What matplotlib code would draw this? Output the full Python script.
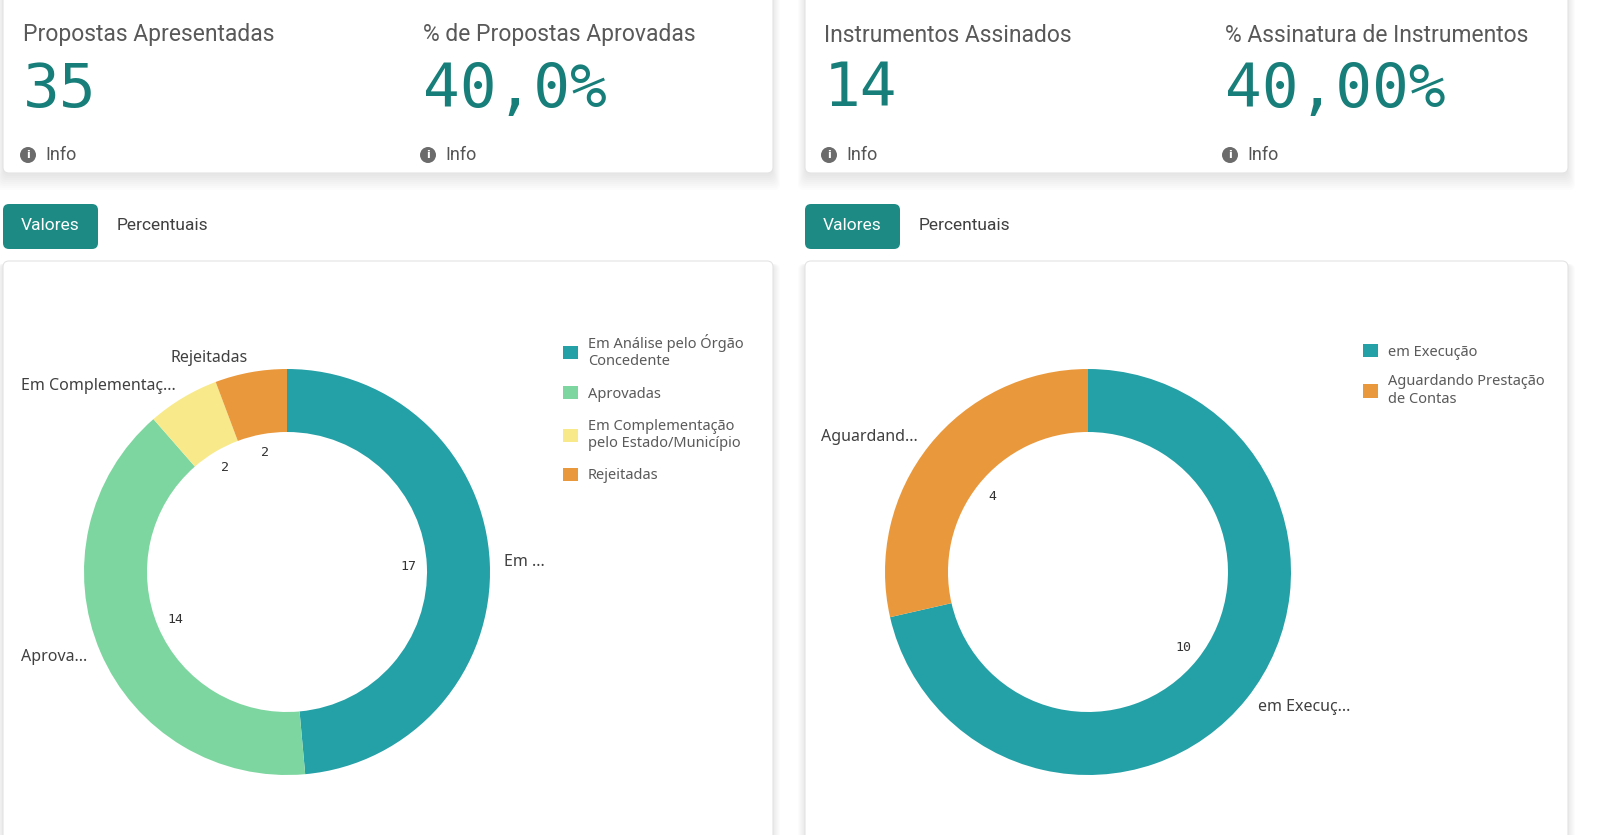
import matplotlib.pyplot as plt
from matplotlib.patches import FancyBboxPatch, Circle

# KPI cards
kpi_titles = ["Propostas Apresentadas", "% de Propostas Aprovadas",
              "Instrumentos Assinados", "% Assinatura de Instrumentos"]
kpi_values = ["35", "40,0%", "14", "40,00%"]

# left donut: situação das propostas
prop_names = ["Em Análise pelo Órgão\nConcedente", "Aprovadas",
              "Em Complementação\npelo Estado/Município", "Rejeitadas"]
prop_short = ["Em ...", "Aprova...", "Em Complementaç...", "Rejeitadas"]
prop_values = [17, 14, 2, 2]
prop_colors = ["#24a0a7", "#7dd69f", "#f8e98a", "#ea983c"]

# right donut: situação dos instrumentos
inst_names = ["em Execução", "Aguardando Prestação\nde Contas"]
inst_short = ["em Execuç...", "Aguardand..."]
inst_values = [10, 4]
inst_colors = ["#24a0a7", "#ea983c"]

W, H = 1600, 835
TEAL = "#177e79"


def Y(p):
    return H - p


fig = plt.figure(figsize=(16, 8.35), dpi=100)
fig.patch.set_facecolor("white")
ax = fig.add_axes([0, 0, 1, 1])


def card(x0, x1, top, bottom):
    # soft shadow
    for k in range(8):
        s = k * 2
        ax.add_patch(FancyBboxPatch((x0 - s / 2, Y(bottom) - 3 - s), x1 - x0 + s, bottom - top + s,
                                    boxstyle="round,pad=0,rounding_size=6", fc="black", ec="none",
                                    alpha=0.013, zorder=1))
    ax.add_patch(FancyBboxPatch((x0, Y(bottom)), x1 - x0, bottom - top,
                                boxstyle="round,pad=0,rounding_size=6", fc="white", ec="#e4e4e4",
                                lw=0.8, zorder=2))


card(3, 773, -30, 173)
card(805, 1568, -30, 173)
card(3, 773, 261, 880)
card(805, 1568, 261, 880)

# KPI texts
kpi_x = [23, 423, 824, 1225]
for i in range(4):
    x = kpi_x[i]
    ax.text(x, Y(35), kpi_titles[i], fontsize=16.5, family="Roboto", color="#595959",
            va="center", ha="left", zorder=4)
    ax.text(x, Y(90), kpi_values[i], fontsize=44, family="DejaVu Sans Mono", color=TEAL,
            va="center", ha="left", zorder=4)
    ax.add_patch(Circle((x + 5, Y(155)), 8, fc="#6b6b6b", ec="none", zorder=4))
    ax.text(x + 5, Y(155), "i", fontsize=8, color="white", weight="bold",
            ha="center", va="center", zorder=5)
    ax.text(x + 22, Y(155), "Info", fontsize=13, family="Roboto", color="#555555",
            va="center", ha="left", zorder=4)

# tabs
for bx in [3, 805]:
    ax.add_patch(FancyBboxPatch((bx, Y(249)), 95, 45, boxstyle="round,pad=0,rounding_size=6",
                                fc="#1e8a84", ec="none", zorder=4))
    ax.text(bx + 47, Y(226), "Valores", fontsize=12.5, family="Roboto", color="white",
            ha="center", va="center", zorder=5)
    ax.text(bx + 114, Y(226), "Percentuais", fontsize=12.5, family="Roboto", color="#404040",
            ha="left", va="center", zorder=5)


def donut(values, short, colors, cx, cy):
    total = sum(values)
    wedges, texts, autotexts = ax.pie(
        values, labels=short, colors=colors, startangle=90, counterclock=False,
        center=(cx, Y(cy)), radius=203, labeldistance=1.07, pctdistance=0.6,
        autopct=lambda p: f"{p * total / 100:.0f}",
        wedgeprops=dict(width=63, linewidth=0, zorder=3),
        textprops=dict(fontsize=11.5, family="Noto Sans", color="#404040"))
    # labels on the left side of the ring are right aligned
    for t in texts:
        t.set_ha("left" if t.get_position()[0] > cx else "right")
    for t in autotexts:
        t.set_family("DejaVu Sans Mono")
        t.set_fontsize(9.5)
        t.set_color("#333333")
    return wedges


w1 = donut(prop_values, prop_short, prop_colors, 287, 572)
w2 = donut(inst_values, inst_short, inst_colors, 1088, 572)

ax.set_xlim(0, W)
ax.set_ylim(0, H)
ax.set_aspect("auto")
ax.axis("off")

leg1 = ax.legend(w1, prop_names, loc="upper left", bbox_to_anchor=(556, Y(327)),
                 bbox_transform=ax.transData, frameon=False,
                 handlelength=1.0, handleheight=1.0, handletextpad=0.7, labelspacing=1.15,
                 borderpad=0, prop=dict(family="Noto Sans", size=10.5))
for t in leg1.get_texts():
    t.set_color("#5a5a5a")
ax.add_artist(leg1)

leg2 = ax.legend(w2, inst_names, loc="upper left", bbox_to_anchor=(1356, Y(337)),
                 bbox_transform=ax.transData, frameon=False,
                 handlelength=1.0, handleheight=1.0, handletextpad=0.7, labelspacing=1.0,
                 borderpad=0, prop=dict(family="Noto Sans", size=10.5))
for t in leg2.get_texts():
    t.set_color("#5a5a5a")

fig.savefig("out.png", dpi=100, facecolor="white")
